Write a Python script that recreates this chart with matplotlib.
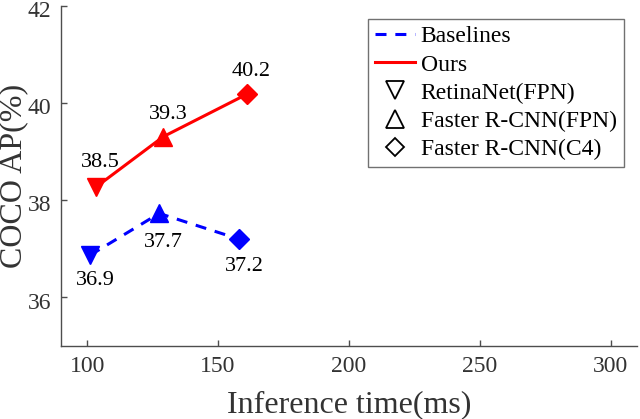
import matplotlib
matplotlib.use("Agg")
import matplotlib.pyplot as plt
from matplotlib.lines import Line2D
from matplotlib.transforms import ScaledTranslation

plt.rcParams['font.family'] = ['Liberation Serif', 'DejaVu Serif']

# data
models = ["RetinaNet(FPN)", "Faster R-CNN(FPN)", "Faster R-CNN(C4)"]
markers = ["v", "^", "D"]
base_time = [101.1, 127.5, 158.1]
base_ap = [36.87, 37.73, 37.2]
base_labels = ["36.9", "37.7", "37.2"]
ours_time = [103.3, 129.1, 160.9]
ours_ap = [38.27, 39.31, 40.18]
ours_labels = ["38.5", "39.3", "40.2"]

xticks = [100, 150, 200, 250, 300]
yticks = [36, 38, 40, 42]

fig = plt.figure(figsize=(6.4, 4.19), dpi=100)
ax = fig.add_axes([0.0953, 0.174, 0.9, 0.812])

ax.plot(base_time, base_ap, color=(0, 0, 1), lw=2.2, dashes=(3.6, 2.9), zorder=2)
ax.plot(ours_time, ours_ap, color=(1, 0, 0), lw=2.2, zorder=2)
for i, m in enumerate(markers):
    ms = 10 if m == "D" else 13.5
    ax.plot(base_time[i], base_ap[i], marker=m, ms=ms, color=(0, 0, 1), ls='none', zorder=3)
    ax.plot(ours_time[i], ours_ap[i], marker=m, ms=ms, color=(1, 0, 0), ls='none', zorder=3)

# annotations (offsets in points)
base_off = [(4, -18), (3, -21), (3.6, -19.5)]
ours_off = [(3, 18), (3.6, 16), (3.6, 16.5)]
for i in range(3):
    ax.annotate(base_labels[i], (base_time[i], base_ap[i]), xytext=base_off[i],
                textcoords='offset points', ha='center', va='center', fontsize=16, color='black')
    ax.annotate(ours_labels[i], (ours_time[i], ours_ap[i]), xytext=ours_off[i],
                textcoords='offset points', ha='center', va='center', fontsize=16, color='black')

ax.set_xlim(90, 310)
ax.set_ylim(35, 42)
ax.set_xticks(xticks)
ax.set_yticks(yticks)
gray = (0.2, 0.2, 0.2)
sp = (0.3, 0.3, 0.3)
for s in ['top', 'right']:
    ax.spines[s].set_visible(False)
for s in ['left', 'bottom']:
    ax.spines[s].set_color(sp)
    ax.spines[s].set_linewidth(1.0)
ax.tick_params(direction='in', length=4.3, width=1, color=sp,
               labelcolor=gray, labelsize=17, pad=7)
shift = ScaledTranslation(0, -2.2 / 72, fig.dpi_scale_trans)
for lbl in ax.get_yticklabels():
    lbl.set_transform(lbl.get_transform() + shift)

fig.text(14 / 640, 1 - 176 / 419, "COCO AP(%)", rotation=90, ha='center', va='center',
         fontsize=23, color=gray)
fig.text(349 / 640, 1 - 412 / 419, "Inference time(ms)", ha='center', va='baseline',
         fontsize=23, color=gray)

handles = [
    Line2D([], [], color=(0, 0, 1), lw=2.2, dashes=(3.6, 2.9)),
    Line2D([], [], color=(1, 0, 0), lw=2.2),
]
labels = ["Baselines", "Ours"]
for m, name in zip(markers, models):
    handles.append(Line2D([], [], ls='none', marker=m, ms=(9 if m == "D" else 13),
                          markerfacecolor='none', markeredgecolor='black', markeredgewidth=1.3))
    labels.append(name)
leg = ax.legend(handles, labels, loc='upper right', bbox_to_anchor=(0.977, 0.962),
                borderaxespad=0, fontsize=17, frameon=True, fancybox=False,
                handlelength=1.7, handletextpad=0.25, labelspacing=0.28,
                borderpad=0.3, edgecolor=sp)
leg.get_frame().set_linewidth(1.0)

fig.savefig("out.png", dpi=100)
